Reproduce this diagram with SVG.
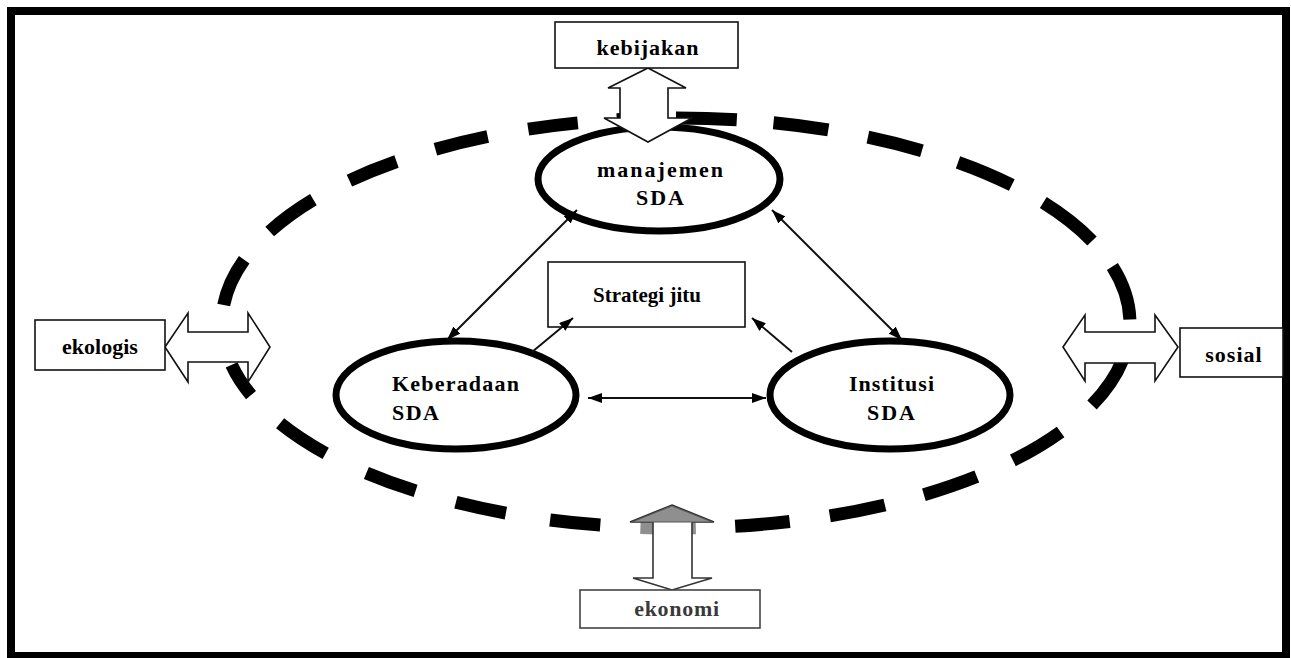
<svg xmlns="http://www.w3.org/2000/svg" width="1291" height="658" viewBox="0 0 1291 658">
<style>
.box{fill:#fff;stroke:#111;stroke-width:1.6}
.blk{fill:#fff;stroke:#111;stroke-width:1.6;stroke-linejoin:miter}
.ell{fill:#fff;stroke:#000;stroke-width:7}
.t{font-family:"Liberation Serif","Times New Roman",serif;font-weight:bold;font-size:22px;fill:#000}
.con{stroke:#111;stroke-width:2;fill:none}
.dash path{fill:none;stroke:#000;stroke-width:13;stroke-linecap:butt}
</style>
<defs>
<marker id="ah" viewBox="0 0 14 10" refX="14" refY="5" markerWidth="14" markerHeight="10" markerUnits="userSpaceOnUse" orient="auto-start-reverse">
<path d="M0,0 L14,5 L0,10 Z" fill="#000"/>
</marker>
</defs>
<rect x="0" y="0" width="1291" height="658" fill="#fff"/>
<rect x="11" y="11" width="1275" height="645" fill="none" stroke="#000" stroke-width="8"/>
<g id="boundary" class="dash">
<path d="M1122.6,360.0 A454,205 0 0 1 1092.0,405.1"/>
<path d="M1060.6,431.9 A454,205 0 0 1 1012.9,460.4"/>
<path d="M976.8,476.5 A454,205 0 0 1 923.9,494.7"/>
<path d="M884.9,505.0 A454,205 0 0 1 829.8,515.9"/>
<path d="M789.7,521.5 A454,205 0 0 1 735.2,526.2"/>
<path d="M695.8,527.8 A454,205 0 0 1 640.4,527.4" style="stroke:#8f8f8f"/>
<path d="M600.3,525.1 A454,205 0 0 1 550.1,520.0"/>
<path d="M505.9,513.1 A454,205 0 0 1 455.9,502.3"/>
<path d="M415.6,490.9 A454,205 0 0 1 366.4,472.9"/>
<path d="M325.7,453.4 A454,205 0 0 1 280.1,423.3"/>
<path d="M251.0,395.1 A454,205 0 0 1 231.6,364.9"/>
<path d="M223.7,305.1 A454,205 0 0 1 244.2,259.7"/>
<path d="M269.7,231.5 A454,205 0 0 1 313.4,199.6"/>
<path d="M349.4,180.6 A454,205 0 0 1 396.5,161.5"/>
<path d="M435.4,149.2 A454,205 0 0 1 487.7,136.5"/>
<path d="M528.2,129.2 A454,205 0 0 1 577.8,122.9"/>
<path d="M616.8,119.8 A454,205 0 0 1 664.1,118.1"/>
<path d="M676.0,118.0 A454,205 0 0 1 736.8,119.8"/>
<path d="M773.5,122.8 A454,205 0 0 1 828.3,129.9"/>
<path d="M867.9,137.2 A454,205 0 0 1 921.9,150.7"/>
<path d="M958.0,162.3 A454,205 0 0 1 1011.8,185.0"/>
<path d="M1043.3,202.5 A454,205 0 0 1 1092.0,240.9"/>
<path d="M1112.4,266.5 A454,205 0 0 1 1129.9,319.4"/>
</g>
<g id="manajemen">
<ellipse class="ell" cx="659" cy="179" rx="121" ry="52"/>
<text class="t" x="661" y="177" text-anchor="middle" letter-spacing="2">manajemen</text>
<text class="t" x="661" y="205" text-anchor="middle" letter-spacing="2">SDA</text>
</g>
<g id="keberadaan">
<ellipse class="ell" cx="456" cy="395" rx="120" ry="54"/>
<text class="t" x="392" y="391" letter-spacing="1.2">Keberadaan</text>
<text class="t" x="392" y="420" letter-spacing="1.5">SDA</text>
</g>
<g id="institusi">
<ellipse class="ell" cx="890" cy="395" rx="120" ry="54"/>
<text class="t" x="892" y="391" text-anchor="middle" letter-spacing="1">Institusi</text>
<text class="t" x="892" y="420" text-anchor="middle" letter-spacing="2">SDA</text>
</g>
<g id="strategi">
<rect class="box" x="548" y="262" width="197" height="65"/>
<text class="t" x="647" y="302" text-anchor="middle" style="font-size:21px">Strategi jitu</text>
</g>
<g id="connectors">
<line class="con" x1="577" y1="210" x2="447" y2="340" marker-start="url(#ah)" marker-end="url(#ah)"/>
<line class="con" x1="772" y1="210" x2="902" y2="340" marker-start="url(#ah)" marker-end="url(#ah)"/>
<line class="con" x1="588" y1="398" x2="766" y2="398" marker-start="url(#ah)" marker-end="url(#ah)"/>
<line class="con" x1="532" y1="352" x2="573" y2="318" marker-end="url(#ah)"/>
<line class="con" x1="792" y1="352" x2="752" y2="318" marker-end="url(#ah)"/>
<polygon class="blk" points="648,68 686,88 668,88 668,118 692,118 648,142 604,118 620,118 620,88 608,88"/>
<polygon class="blk" points="165,347 188,313 188,332 248,332 248,313 270,347 248,382 248,362 188,362 188,382"/>
<polygon class="blk" points="1063,347 1085,315 1085,332 1155,332 1155,315 1178,347 1155,381 1155,363 1085,363 1085,381"/>
<polygon class="blk" points="672,505 714,522 692,522 692,578 712,578 672,590 633,578 653,578 653,522 630,522" style="stroke:#333"/>
<polygon points="672,506 712,522 632,522" fill="#8f8f8f" stroke="#555" stroke-width="1"/>
</g>
<g id="kebijakan">
<rect class="box" x="555" y="22" width="183" height="46"/>
<text class="t" x="648" y="55" text-anchor="middle" letter-spacing="1">kebijakan</text>
</g>
<g id="ekologis">
<rect class="box" x="35" y="320" width="130" height="50"/>
<text class="t" x="100" y="354" text-anchor="middle">ekologis</text>
</g>
<g id="sosial">
<rect class="box" x="1180" y="328" width="103" height="49"/>
<text class="t" x="1234" y="362" text-anchor="middle" letter-spacing="1">sosial</text>
</g>
<g id="ekonomi">
<rect class="box" x="580" y="590" width="180" height="38" style="stroke:#444"/>
<text class="t" x="677" y="616" text-anchor="middle" letter-spacing="0.7" style="fill:#3a3a3a">ekonomi</text>
</g>
</svg>
